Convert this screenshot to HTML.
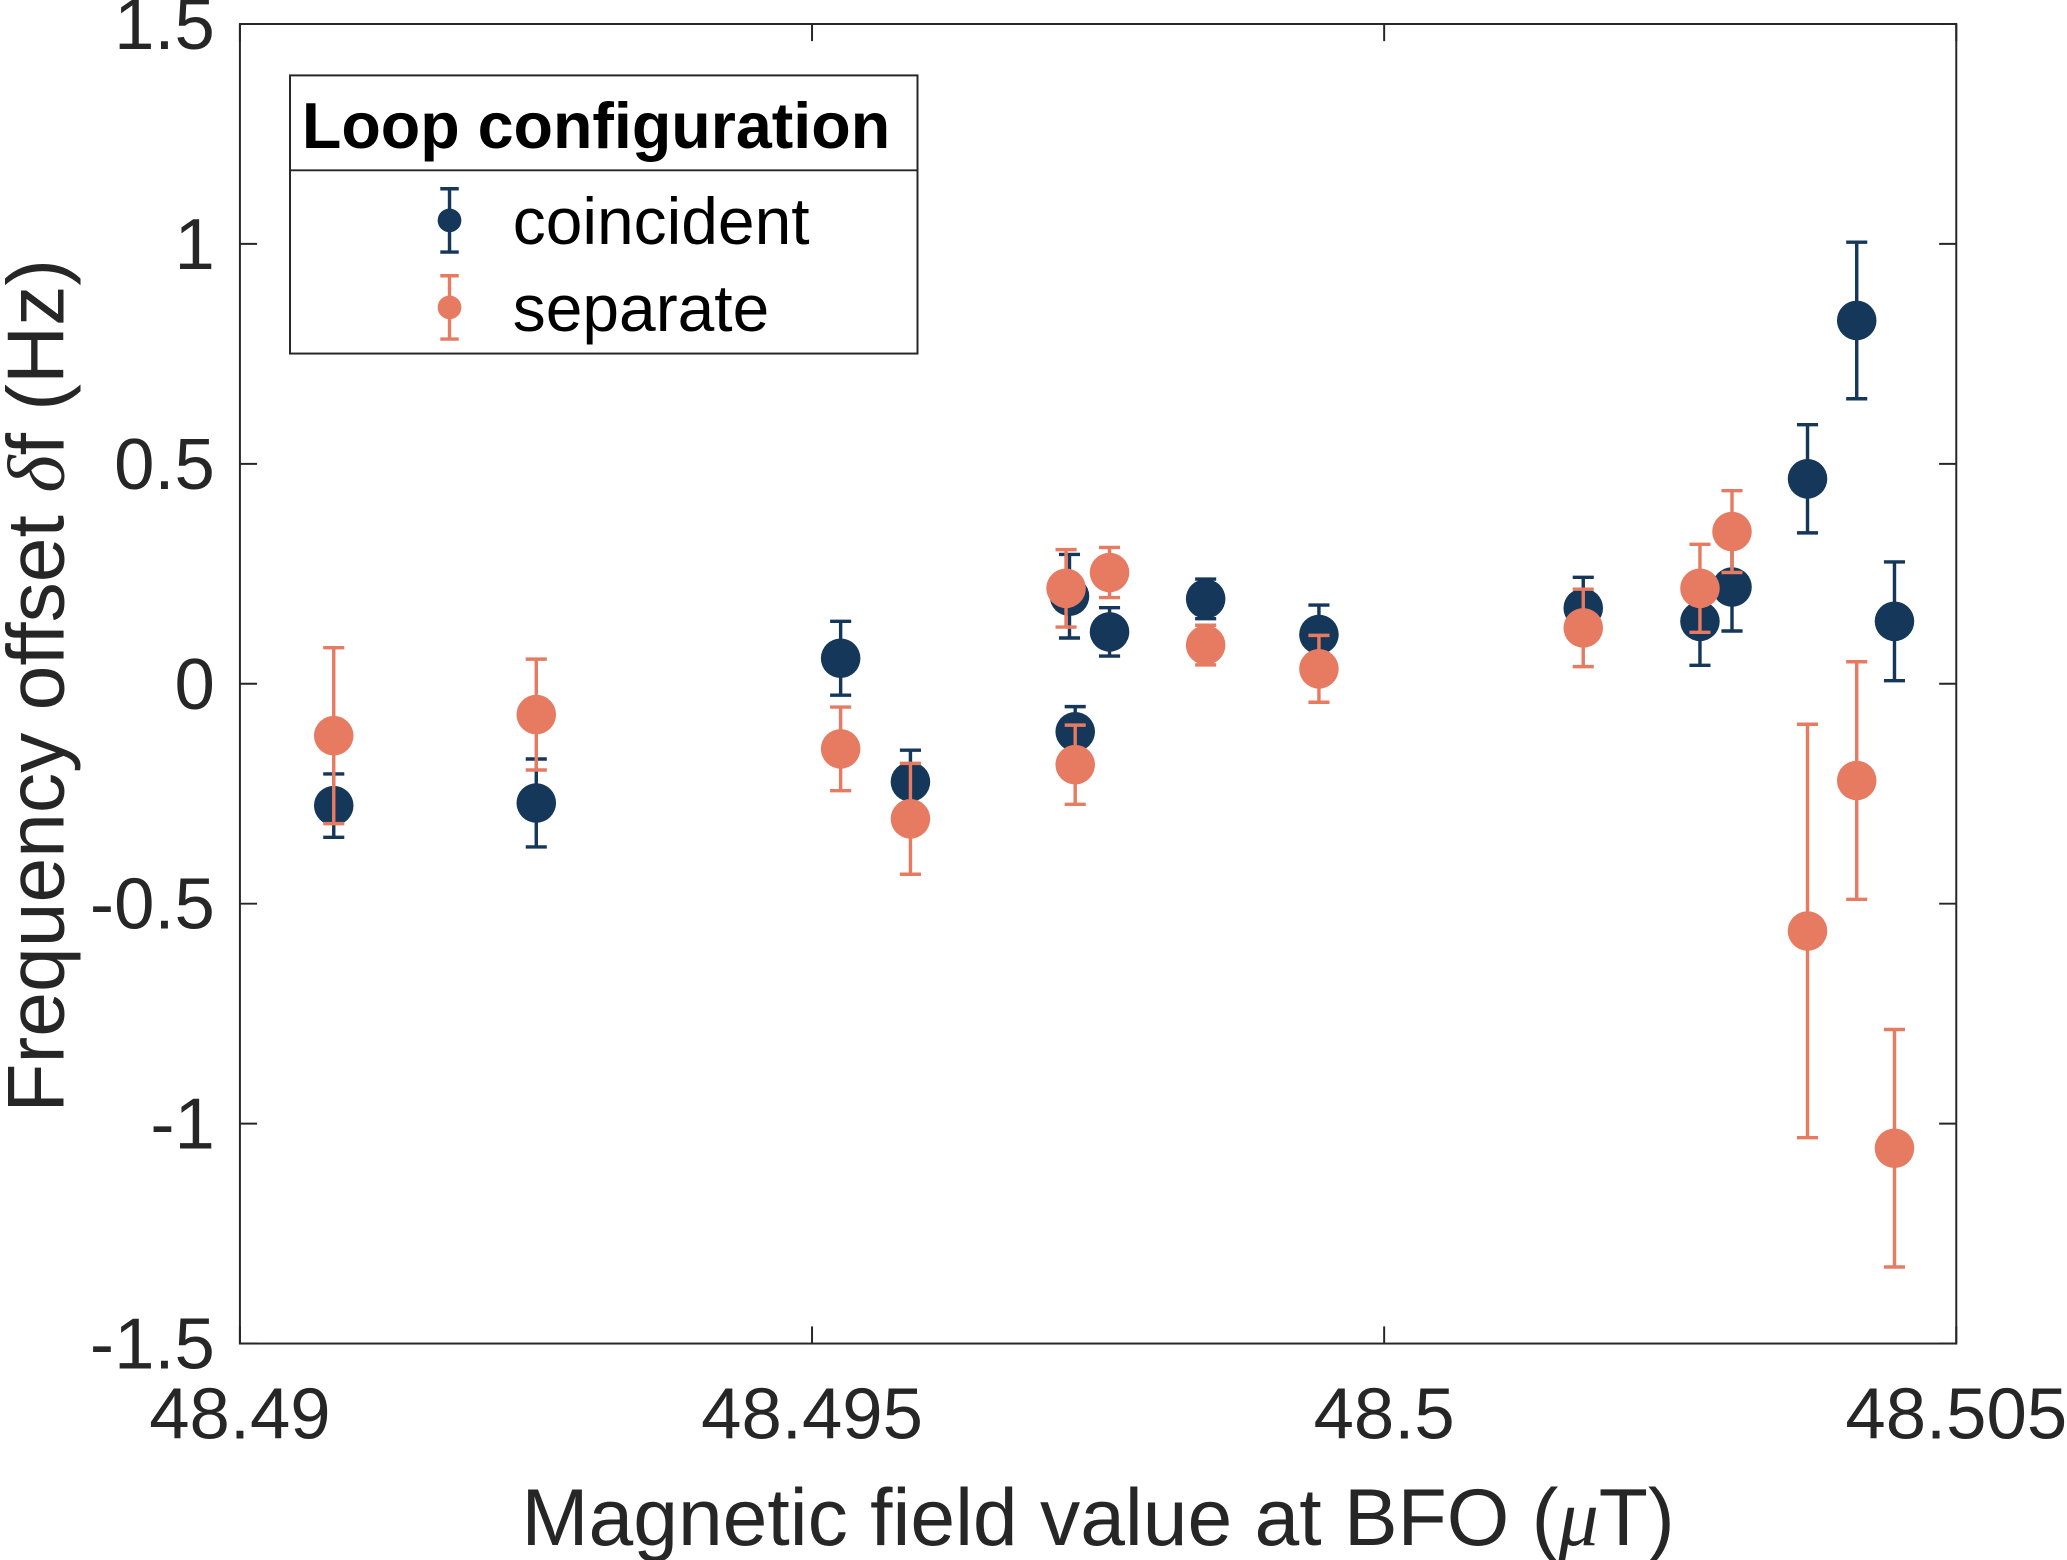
<!DOCTYPE html>
<html><head><meta charset="utf-8"><style>html,body{margin:0;padding:0;background:#fff}svg{display:block}</style></head>
<body>
<svg id="chart" width="2067" height="1560" viewBox="0 0 1568 1183" xmlns="http://www.w3.org/2000/svg" font-family="'Liberation Sans', sans-serif">
<rect width="1568" height="1183" fill="#fff"/>
<g id="marks"></g>
<rect x="182" y="18" width="1302" height="1001" fill="none" stroke="#262626" stroke-width="1.5"/>
<g id="axes"></g>
<text x="833" y="1172" font-size="61" text-anchor="middle" fill="#262626">Magnetic field value at BFO (<tspan font-family="'Liberation Serif', serif" font-style="italic">μ</tspan>T)</text>
<text transform="translate(48,520) rotate(-90)" font-size="61" text-anchor="middle" fill="#262626">Frequency offset <tspan font-family="'Liberation Serif', serif" font-style="italic">δ</tspan>f (Hz)</text>
<g>
<rect x="220" y="57" width="476" height="211" fill="#fff" stroke="#262626" stroke-width="1.5"/>
<line x1="220" y1="129" x2="696" y2="129" stroke="#262626" stroke-width="1.5"/>
<text x="229" y="112" font-size="49" font-weight="bold" fill="#000">Loop configuration</text>
<g>
<line x1="341" y1="143" x2="341" y2="191" stroke="#14375a" stroke-width="2.6"/><line x1="334" y1="143" x2="348" y2="143" stroke="#14375a" stroke-width="2.6"/><line x1="334" y1="191" x2="348" y2="191" stroke="#14375a" stroke-width="2.6"/>
<circle cx="341" cy="167" r="9" fill="#14375a"/>
<text x="389" y="185" font-size="50" fill="#000">coincident</text></g>
<g>
<line x1="341" y1="209" x2="341" y2="257" stroke="#e67b62" stroke-width="2.6"/><line x1="334" y1="209" x2="348" y2="209" stroke="#e67b62" stroke-width="2.6"/><line x1="334" y1="257" x2="348" y2="257" stroke="#e67b62" stroke-width="2.6"/>
<circle cx="341" cy="233" r="9" fill="#e67b62"/>
<text x="389" y="251" font-size="50" fill="#000">separate</text></g>
</g>
</svg>
<script>
const xTicks = [48.49, 48.495, 48.5, 48.505];
const xTickLabels = ["48.49", "48.495", "48.5", "48.505"];
const yTicks = [-1.5, -1, -0.5, 0, 0.5, 1, 1.5];
const yTickLabels = ["-1.5", "-1", "-0.5", "0", "0.5", "1", "1.5"];
const coincidentX = [48.49082, 48.49259, 48.49525, 48.49586, 48.4973, 48.49725, 48.4976, 48.49844, 48.49943, 48.50174, 48.50276, 48.50304, 48.5037, 48.50413, 48.50446];
const coincidentY = [-0.277, -0.271, 0.058, -0.223, -0.109, 0.199, 0.118, 0.193, 0.112, 0.172, 0.142, 0.22, 0.466, 0.826, 0.142];
const coincidentErr = [0.072, 0.1, 0.084, 0.072, 0.057, 0.095, 0.055, 0.045, 0.067, 0.07, 0.1, 0.1, 0.123, 0.178, 0.135];
const separateX = [48.49082, 48.49259, 48.49525, 48.49586, 48.4973, 48.49722, 48.4976, 48.49844, 48.49943, 48.50174, 48.50276, 48.50304, 48.5037, 48.50413, 48.50446];
const separateY = [-0.118, -0.07, -0.148, -0.307, -0.184, 0.217, 0.253, 0.088, 0.034, 0.127, 0.217, 0.346, -0.562, -0.22, -1.056];
const separateErr = [0.2, 0.126, 0.095, 0.126, 0.09, 0.088, 0.057, 0.045, 0.076, 0.088, 0.1, 0.093, 0.47, 0.27, 0.27];

const NS = "http://www.w3.org/2000/svg";
const X0 = 182, X1 = 1484, Y0 = 1019, Y1 = 18;
function sx(v) { return X0 + (v - 48.49) / 0.015 * (X1 - X0); }
function sy(v) { return Y0 - (v + 1.5) / 3 * (Y0 - Y1); }
function mk(tag, attrs, parent) {
  const e = document.createElementNS(NS, tag);
  for (const k in attrs) e.setAttribute(k, attrs[k]);
  parent.appendChild(e);
  return e;
}
const axes = document.getElementById("axes");
const marks = document.getElementById("marks");
xTicks.forEach((t, i) => {
  const x = sx(t);
  const g = mk("g", {}, axes);
  
  
  mk("line", {x1: x, y1: Y0, x2: x, y2: Y0 - 13, stroke: "#262626", "stroke-width": 1.5}, g);
  mk("line", {x1: x, y1: Y1, x2: x, y2: Y1 + 13, stroke: "#262626", "stroke-width": 1.5}, g);
  const tx = mk("text", {x: x, y: 1091, "font-size": 55, "text-anchor": "middle", fill: "#262626"}, g);
  tx.textContent = xTickLabels[i];
});
yTicks.forEach((t, i) => {
  const y = sy(t);
  const g = mk("g", {}, axes);
  
  
  mk("line", {x1: X0, y1: y, x2: X0 + 13, y2: y, stroke: "#262626", "stroke-width": 1.5}, g);
  mk("line", {x1: X1, y1: y, x2: X1 - 13, y2: y, stroke: "#262626", "stroke-width": 1.5}, g);
  const tx = mk("text", {x: 163, y: y + 19, "font-size": 55, "text-anchor": "end", fill: "#262626"}, g);
  tx.textContent = yTickLabels[i];
});
function series(xs, ys, es, color, name) {
  const sg = mk("g", {}, marks);
  
  
  xs.forEach((xv, i) => {
    const x = sx(xv), y = sy(ys[i]), yt = sy(ys[i] + es[i]), yb = sy(ys[i] - es[i]);
    const g = mk("g", {}, sg);
    
    
    mk("line", {x1: x, y1: yt, x2: x, y2: yb, stroke: color, "stroke-width": 2.6}, g);
    mk("line", {x1: x - 8, y1: yt, x2: x + 8, y2: yt, stroke: color, "stroke-width": 2.6}, g);
    mk("line", {x1: x - 8, y1: yb, x2: x + 8, y2: yb, stroke: color, "stroke-width": 2.6}, g);
    mk("circle", {cx: x, cy: y, r: 15, fill: color}, g);
  });
}
series(coincidentX, coincidentY, coincidentErr, "#14375a", "coincident");
series(separateX, separateY, separateErr, "#e67b62", "separate");
</script>
</body></html>
